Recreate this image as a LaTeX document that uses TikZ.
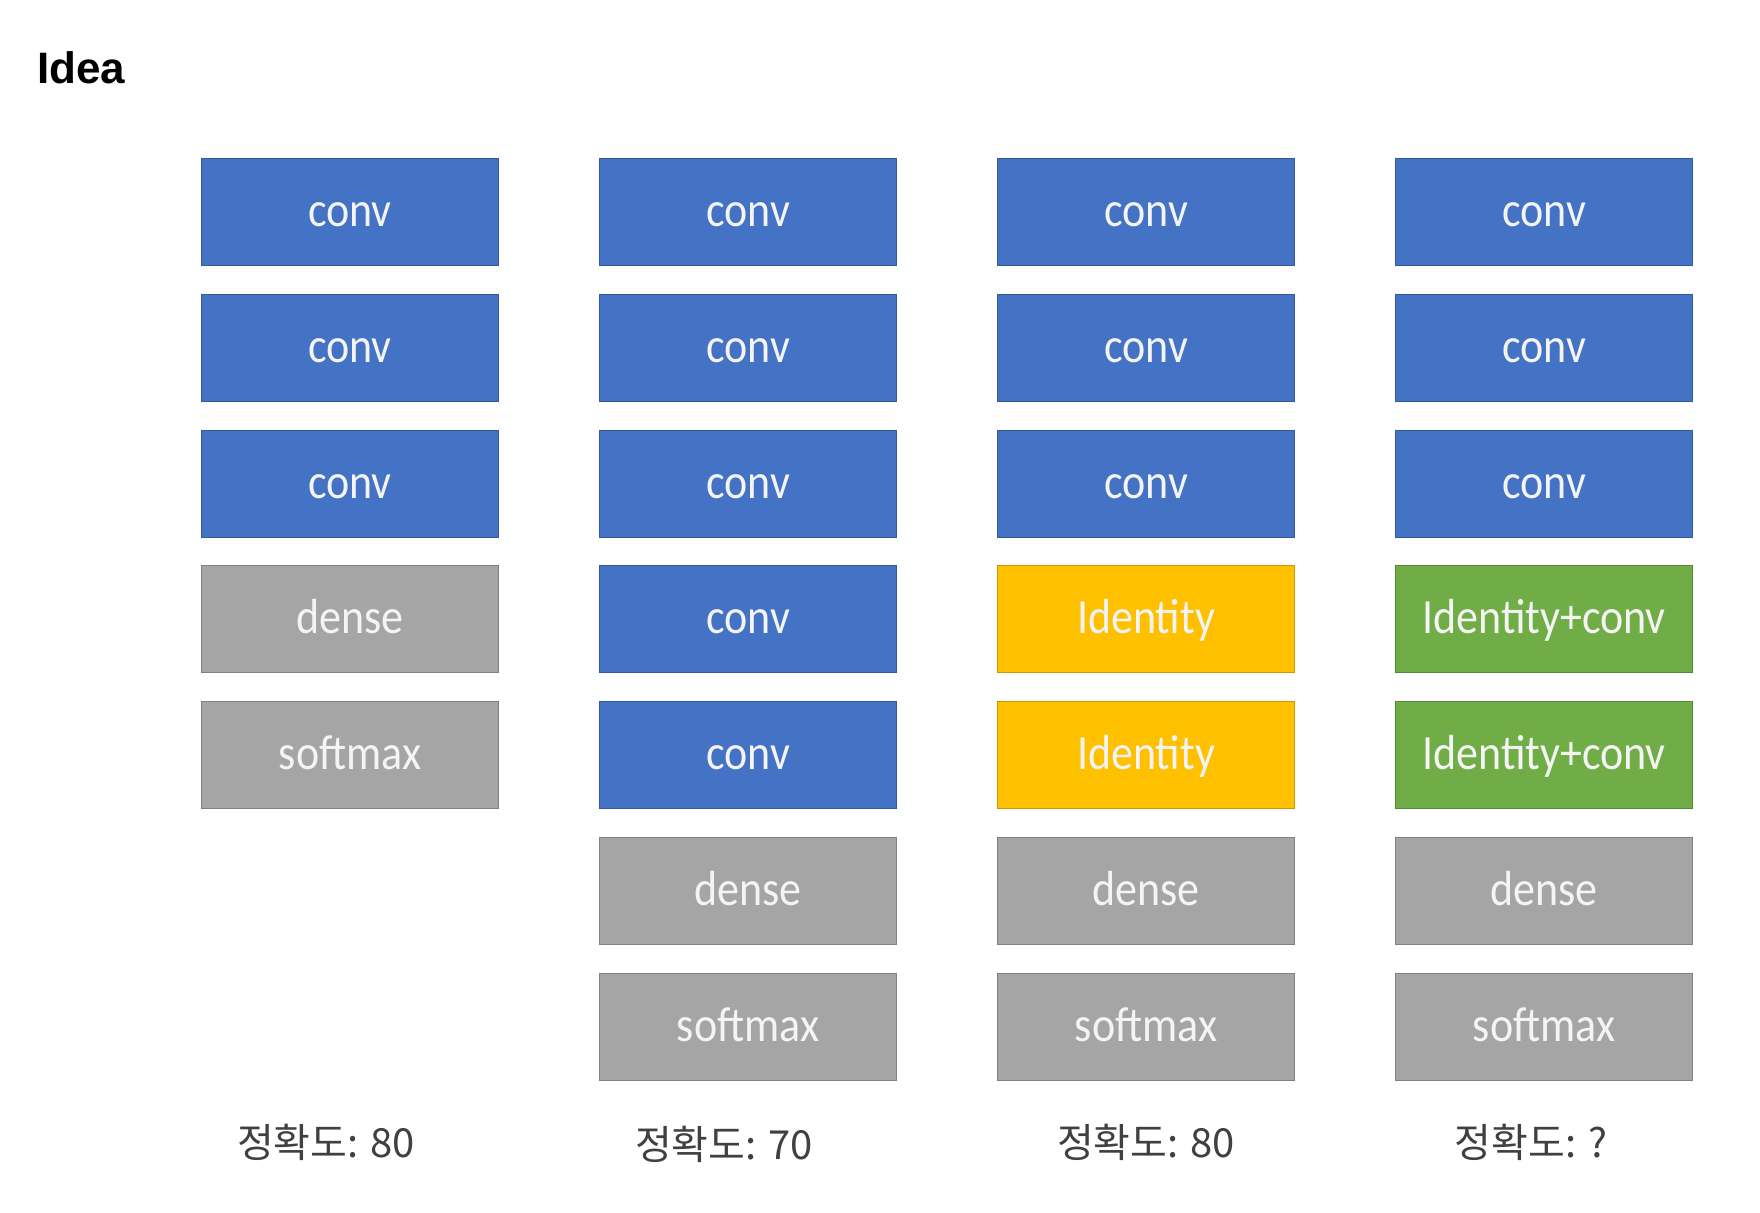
\documentclass[tikz,border=0pt]{standalone}
\usepackage{fontspec}
\setmainfont{Carlito}
\newfontfamily\titlefont{Liberation Sans}
\newfontfamily\krfont{Noto Sans CJK KR}
\definecolor{cblue}{HTML}{4472C4}
\definecolor{cblueb}{HTML}{34589A}
\definecolor{cgray}{HTML}{A5A5A5}
\definecolor{cgrayb}{HTML}{828282}
\definecolor{cyellow}{HTML}{FFC000}
\definecolor{cyellowb}{HTML}{CC9A00}
\definecolor{cgreen}{HTML}{70AD47}
\definecolor{cgreenb}{HTML}{558A35}
\definecolor{ctext}{HTML}{F4F4F4}
\definecolor{clabel}{HTML}{404040}
\newcommand\vtall[1]{\scalebox{1}[1.12]{#1}}
\tikzset{
  layer/.style={rectangle, minimum width=148.5pt, minimum height=53.5pt, inner sep=0pt,
    text height=18.6pt, text depth=4pt,
    line width=0.8pt, text=ctext, font=\fontsize{22}{26}\selectfont},
  convbox/.style={layer, fill=cblue, draw=cblueb},
  graybox/.style={layer, fill=cgray, draw=cgrayb},
  idbox/.style={layer, fill=cyellow, draw=cyellowb},
  idconvbox/.style={layer, fill=cgreen, draw=cgreenb},
  acc/.style={text=clabel, font=\krfont\fontsize{20}{24}\selectfont, inner sep=0pt},
}
\begin{document}
\begin{tikzpicture}[x=0.5pt, y=-0.5pt]
\useasboundingbox[fill=white] (0,0) rectangle (1760,1212);
\node[anchor=base west, inner sep=0pt, font=\titlefont\bfseries\fontsize{22}{26}\selectfont] (title) at (37,83) {Idea};
% column 1
\node[convbox] (a1) at (350,212) {\vtall{conv}};
\node[convbox] (a2) at (350,348) {\vtall{conv}};
\node[convbox] (a3) at (350,484) {\vtall{conv}};
\node[graybox] (a4) at (350,619) {\vtall{dense}};
\node[graybox] (a5) at (350,755) {\vtall{softmax}};
% column 2
\node[convbox] (b1) at (748,212) {\vtall{conv}};
\node[convbox] (b2) at (748,348) {\vtall{conv}};
\node[convbox] (b3) at (748,484) {\vtall{conv}};
\node[convbox] (b4) at (748,619) {\vtall{conv}};
\node[convbox] (b5) at (748,755) {\vtall{conv}};
\node[graybox] (b6) at (748,891) {\vtall{dense}};
\node[graybox] (b7) at (748,1027) {\vtall{softmax}};
% column 3
\node[convbox] (c1) at (1146,212) {\vtall{conv}};
\node[convbox] (c2) at (1146,348) {\vtall{conv}};
\node[convbox] (c3) at (1146,484) {\vtall{conv}};
\node[idbox] (c4) at (1146,619) {\vtall{Identity}};
\node[idbox] (c5) at (1146,755) {\vtall{Identity}};
\node[graybox] (c6) at (1146,891) {\vtall{dense}};
\node[graybox] (c7) at (1146,1027) {\vtall{softmax}};
% column 4
\node[convbox] (d1) at (1544,212) {\vtall{conv}};
\node[convbox] (d2) at (1544,348) {\vtall{conv}};
\node[convbox] (d3) at (1544,484) {\vtall{conv}};
\node[idconvbox] (d4) at (1544,619) {\vtall{Identity+conv}};
\node[idconvbox] (d5) at (1544,755) {\vtall{Identity+conv}};
\node[graybox] (d6) at (1544,891) {\vtall{dense}};
\node[graybox] (d7) at (1544,1027) {\vtall{softmax}};
% accuracy labels
\node[acc] (l1) at (326,1142) {정확도: 80};
\node[acc] (l2) at (724,1144) {정확도: 70};
\node[acc] (l3) at (1146,1142) {정확도: 80};
\node[acc] (l4) at (1531,1142) {정확도: ?};
\end{tikzpicture}
\end{document}
